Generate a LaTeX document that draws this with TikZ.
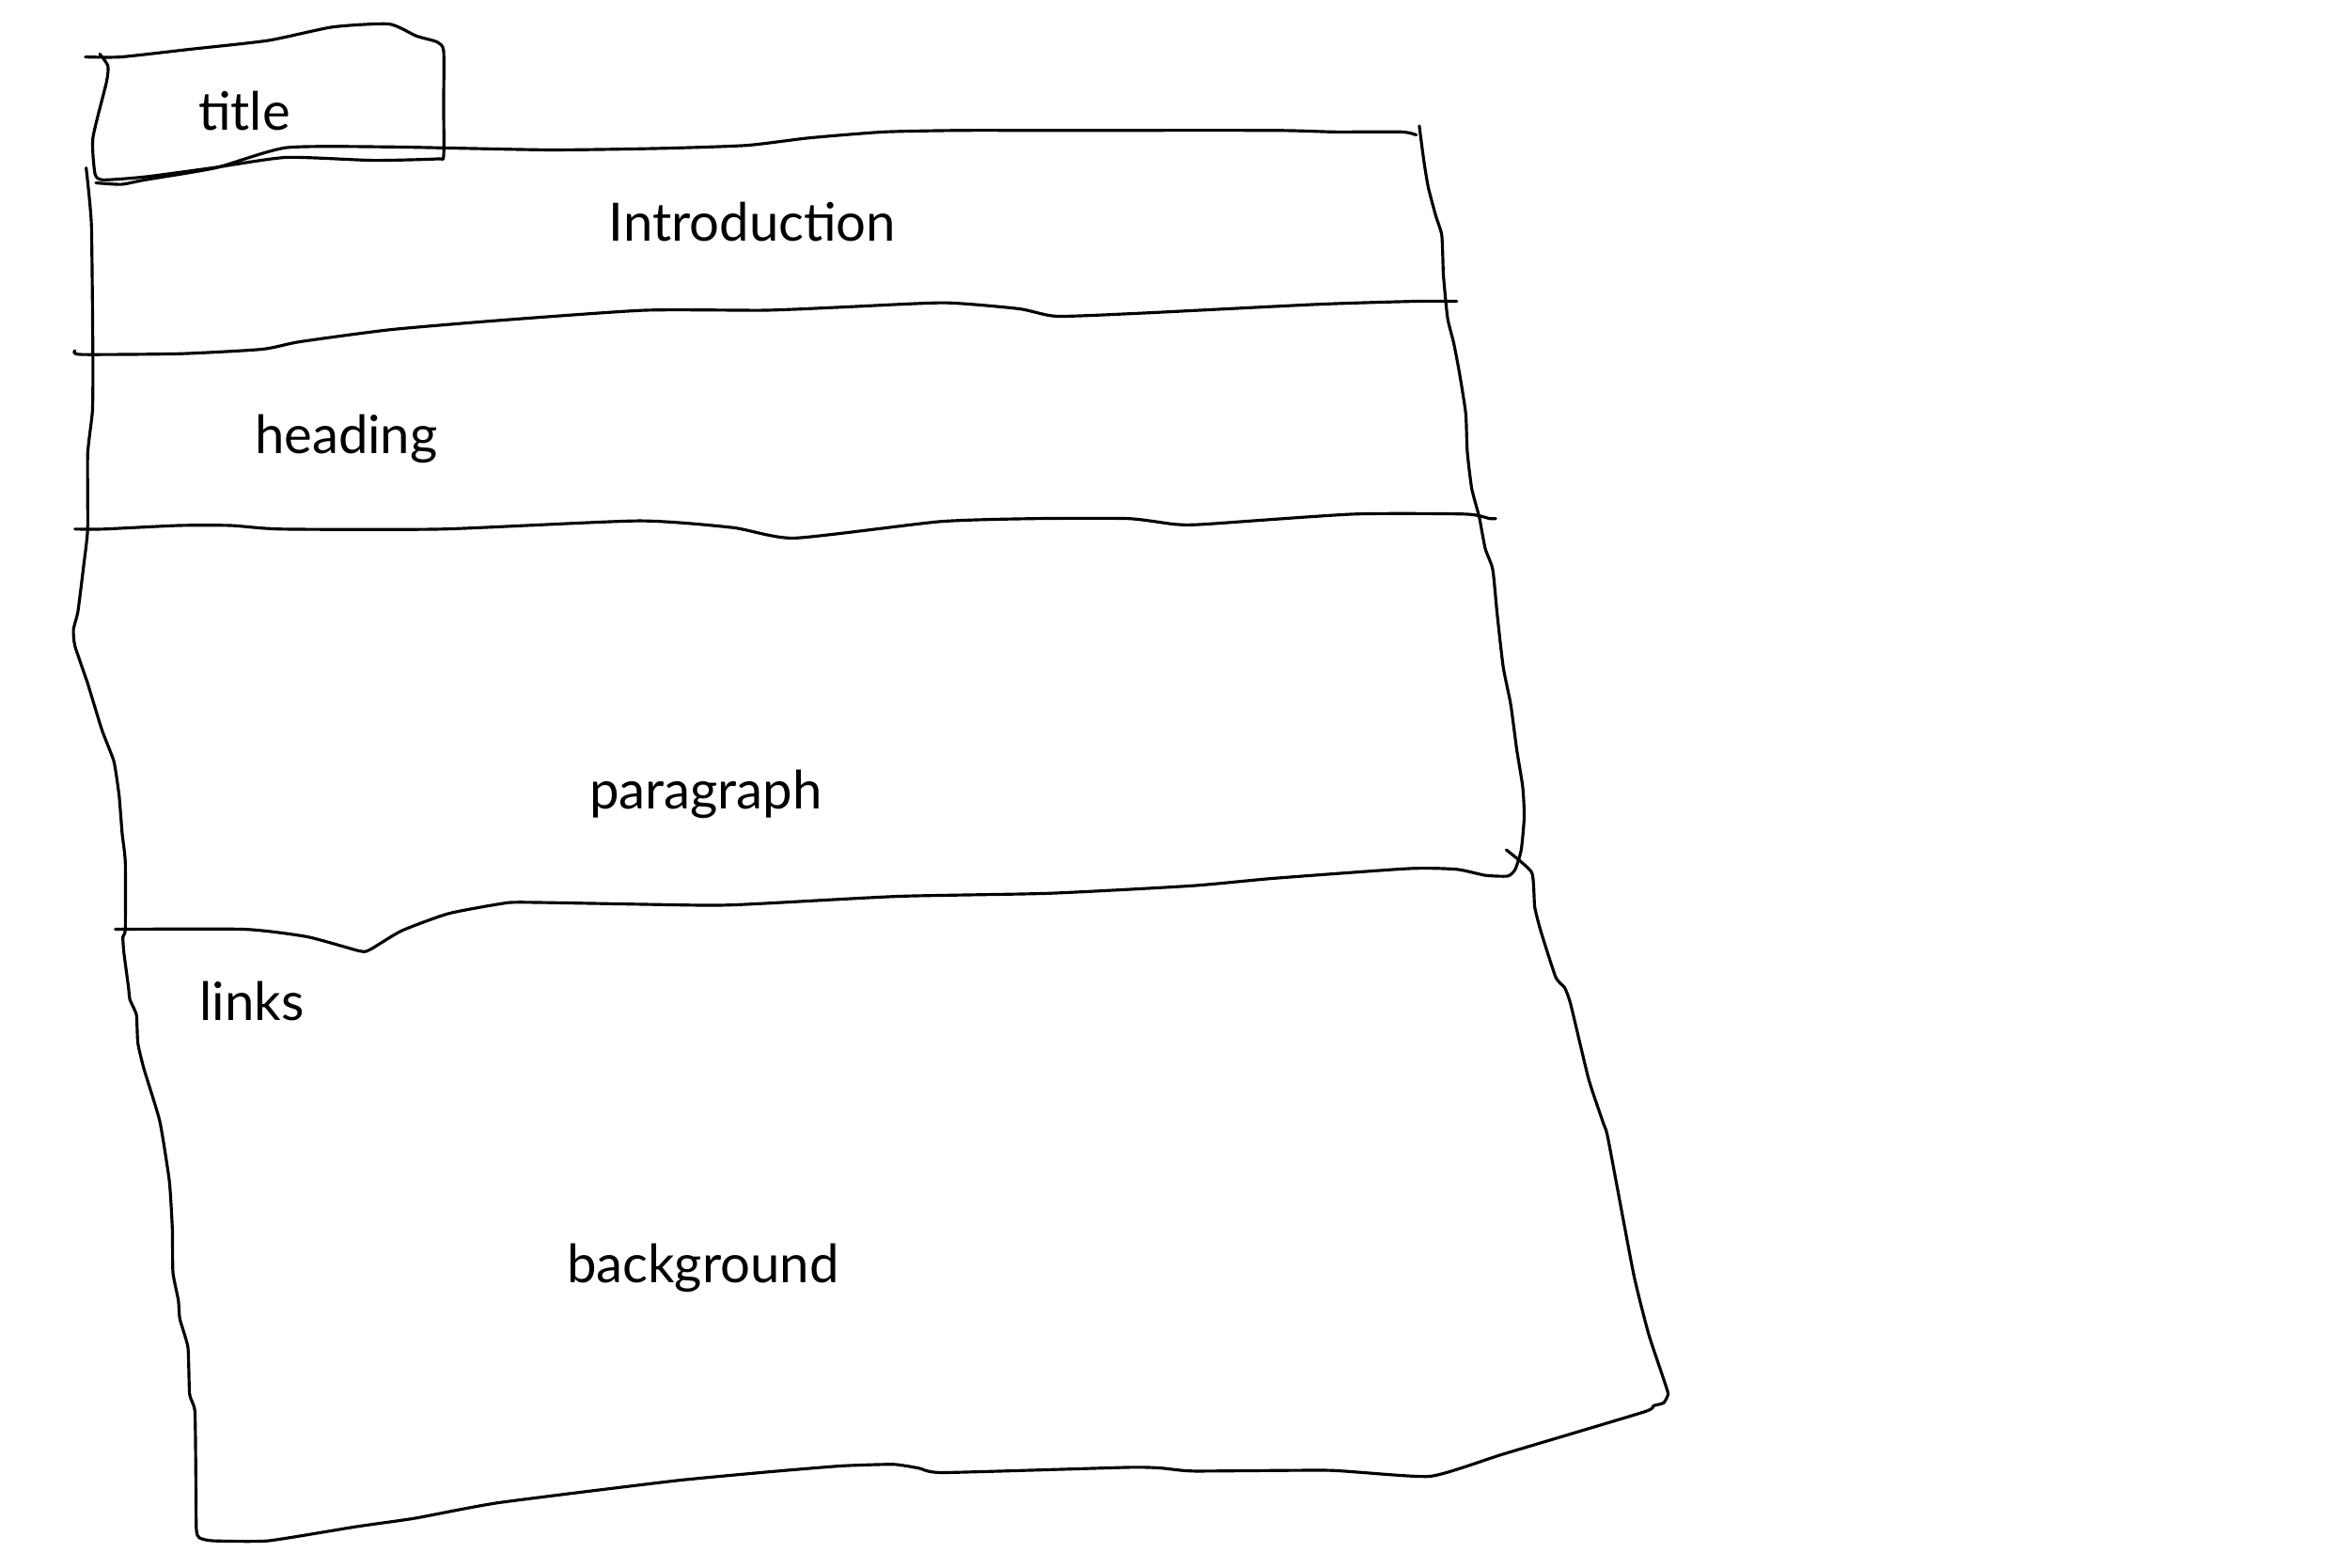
\documentclass[tikz,border=0pt]{standalone}
\usepackage{fontspec}
\setmainfont{Lato}

\tikzset{
  sketch/.style={line width=0.9pt, line cap=round, line join=round},
  lbl/.style={font=\fontsize{16}{19}\selectfont, inner sep=0pt},
}

\begin{document}
\begin{tikzpicture}[x=0.01595cm, y=-0.01595cm]
  \useasboundingbox (0,0) rectangle (1568,1046);

  % title tab
  \draw[sketch] plot[smooth, tension=0.35] coordinates {(57,38) (80.6,38) (125.6,33) (179,27) (222,18) (259.5,16) (277.8,24) (291.7,28) (296,34) (296,70) (296,104) (291.7,106) (249,107) (191,105) (141.7,112) (96.7,118) (68.8,120) (63.4,116) (62,92) (71,55) (72,44) (66.6,36)};

  % dividing lines
  \draw[sketch] plot[smooth, tension=0.35] coordinates {(64,122) (81,123) (96.7,120) (143.8,112) (191,98.5) (260,98) (366,100) (440,99) (498,97) (540,92) (590,88) (640,87) (700,87) (850,87) (890,88) (935,88) (945,90)};
  \draw[sketch] plot[smooth, tension=0.35] coordinates {(50,234) (54,236.5) (120,236) (175,233) (200,228) (260,220) (330,214) (430,207) (510,207) (560,205) (630,202) (680,206) (705,211) (760,209) (880,203) (945,201) (972,201)};
  \draw[sketch] plot[smooth, tension=0.35] coordinates {(50,353) (69,353) (119,350.6) (154,350.6) (188,353) (295,353) (426,347.5) (489,352) (530,359) (627,348) (690,346) (753,346) (784,349.8) (803,349.8) (903,343) (978,343) (994,346) (998,346)};

  % paragraph bottom and right side
  \draw[sketch] plot[smooth, tension=0.35] coordinates {(77,620) (163,620) (205,625) (240,634.5) (247,633.5) (268,621) (299,609.6) (334,603) (351,602) (470,604) (505,603) (600,598) (700,596) (795,591) (850,586) (940,579.5) (972,580) (991,584) (1006,584.5) (1011,580) (1015,567) (1017,545) (1016,525) (1012,500) (1008,470) (1003,445) (999,410) (996,380) (991,366) (987,345) (982,326) (979,301) (978,276) (974,250) (970,229) (966,213) (964,194) (963,182) (962,157) (958,144) (953,125) (950,107) (947,84)};

  % outer outline: right, bottom, left
  \draw[sketch] plot[smooth, tension=0.3] coordinates {(1005,567) (1022,582) (1024,605) (1028,621) (1038,652) (1044,659) (1048,670) (1060,720) (1070,750) (1073,760) (1090,850) (1100,890) (1110,920) (1113,930) (1110,936) (1103,938) (1097,942) (1003.5,970) (954,985) (887,981) (797,981.5) (775,979.5) (753,979) (629.5,982.5) (613,979.5) (596,977) (562,978) (517.6,981.6) (450,988) (332.6,1002.6) (276.6,1013) (237.5,1018.6) (179,1028) (142,1028) (133,1026) (131,1020) (130.6,976) (130,941) (126.5,930) (125.4,899) (120,880) (119,867.5) (115.4,849) (115,820) (113,788) (106.6,748) (96,713) (92,696) (91,677) (86.7,667) (85.7,658.5) (82.6,635) (82,625) (83.6,620) (83.6,575) (81.5,556) (79.5,531) (76,508) (68,487) (58.5,456) (50,431) (49,420) (52,408) (56,376) (58.5,353) (58.5,303) (61.7,274) (62,240) (61,150) (57.5,112)};

  \node[lbl] (title) at (163,74) {title};
  \node[lbl] (intro) at (502,148) {Introduction};
  \node[lbl] (heading) at (231,293) {heading};
  \node[lbl] (paragraph) at (471,530) {paragraph};
  \node[lbl] (links) at (168,668) {links};
  \node[lbl] (background) at (469,846) {background};
\end{tikzpicture}
\end{document}
